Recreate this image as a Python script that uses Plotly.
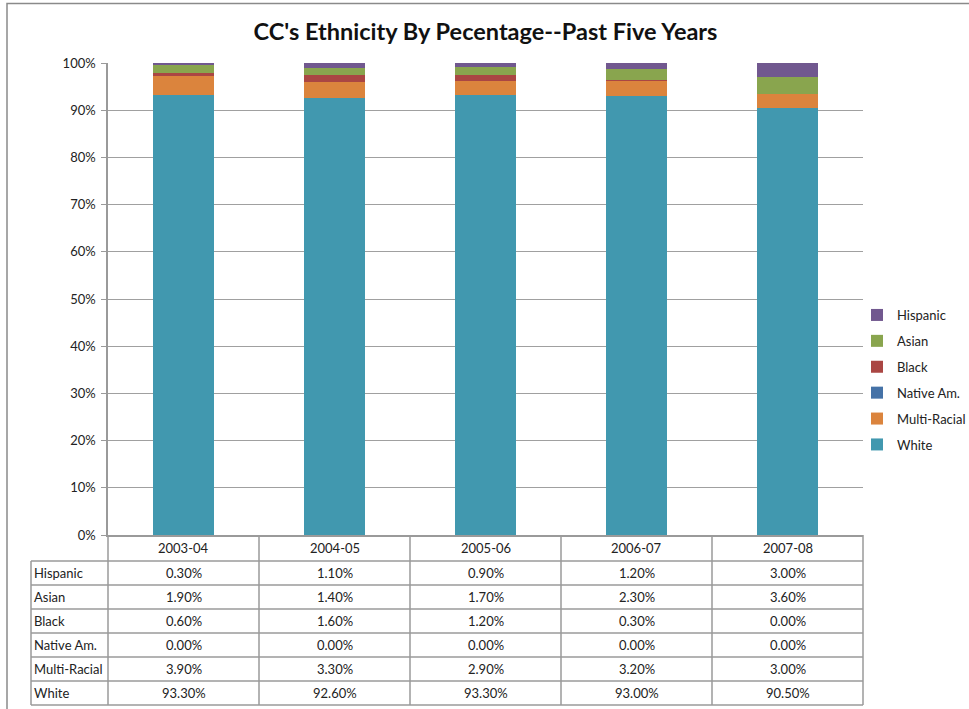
import plotly.graph_objects as go

years = ["2003-04", "2004-05", "2005-06", "2006-07", "2007-08"]
white = [93.3, 92.6, 93.3, 93.0, 90.5]
multi_racial = [3.9, 3.3, 2.9, 3.2, 3.0]
native_am = [0.0, 0.0, 0.0, 0.0, 0.0]
black = [0.6, 1.6, 1.2, 0.3, 0.0]
asian = [1.9, 1.4, 1.7, 2.3, 3.6]
hispanic = [0.3, 1.1, 0.9, 1.2, 3.0]

series = [
    ("White", white, "#4198AF"),
    ("Multi-Racial", multi_racial, "#DB843D"),
    ("Native Am.", native_am, "#4572A7"),
    ("Black", black, "#AA4643"),
    ("Asian", asian, "#89A54E"),
    ("Hispanic", hispanic, "#71588F"),
]
table_order = ["Hispanic", "Asian", "Black", "Native Am.", "Multi-Racial", "White"]

FONT = "Lato, Liberation Sans, sans-serif"
W, H = 969, 709
L, R, T, B = 108, 863, 63, 535


def px(x):
    return (x - L) / (R - L)


def py(y):
    return (B - y) / (B - T)


fig = go.Figure()
n = len(series)
for k, (name, vals, col) in enumerate(series):
    fig.add_trace(go.Bar(
        x=years, y=vals, name=name, marker_color=col,
        marker_line_width=0, width=0.4, legendgroup=name, legendrank=n - k,
    ))

shapes = []
annotations = []
line = dict(color="#9a9a9a", width=1.5)

# outer chart border
shapes.append(dict(type="rect", xref="paper", yref="paper",
                   x0=px(7), x1=px(990), y0=py(3.5), y1=py(730),
                   line=dict(color="#8a8a8a", width=1.5), layer="below"))

# table grid
row_tops = [561, 585, 609, 633, 657, 681, 705]
for y in row_tops:
    shapes.append(dict(type="line", xref="paper", yref="paper",
                       x0=px(31), x1=px(R), y0=py(y), y1=py(y), line=line))
shapes.append(dict(type="line", xref="paper", yref="paper",
                   x0=px(31), x1=px(31), y0=py(561), y1=py(705), line=line))
col_w = (R - L) / len(years)
for i in range(len(years) + 1):
    xx = L + i * col_w
    shapes.append(dict(type="line", xref="paper", yref="paper",
                       x0=px(xx), x1=px(xx), y0=py(B), y1=py(705), line=line))

tfont = dict(family=FONT, size=13, color="#222")
# header
for i, yr in enumerate(years):
    annotations.append(dict(x=i, xref="x", y=py(548), yref="paper", text=yr,
                            showarrow=False, font=tfont, xanchor="center", yanchor="middle"))
lookup = {nm: v for nm, v, c in series}
for r, name in enumerate(table_order):
    yc = (row_tops[r] + row_tops[r + 1]) / 2
    annotations.append(dict(x=px(32), xref="paper", y=py(yc), yref="paper", text=name,
                            showarrow=False, font=tfont, xanchor="left", yanchor="middle"))
    for i, v in enumerate(lookup[name]):
        annotations.append(dict(x=i, xref="x", y=py(yc), yref="paper", text=f"{v:.2f}%",
                                showarrow=False, font=tfont, xanchor="center", yanchor="middle"))

fig.update_layout(
    width=W, height=H,
    margin=dict(l=L, r=W - R, t=T, b=H - B, pad=0, autoexpand=False),
    barmode="stack", barnorm="percent",
    paper_bgcolor="white", plot_bgcolor="white",
    title=dict(text="<b>CC's Ethnicity By Pecentage--Past Five Years</b>",
               x=0.5, xanchor="center", xref="paper", y=1 - 32 / H, yanchor="middle",
               font=dict(family=FONT, size=23.5, color="#111")),
    font=dict(family=FONT, size=13, color="#222"),
    legend=dict(x=px(857), xanchor="left", y=py(300), yanchor="top",
                traceorder="grouped", tracegroupgap=6,
                font=dict(family=FONT, size=13, color="#222"),
                itemwidth=30, bgcolor="rgba(0,0,0,0)"),
    shapes=shapes, annotations=annotations,
)
fig.update_xaxes(type="category", showticklabels=False, showgrid=False, showline=True,
                 linecolor="#9a9a9a", linewidth=1.5, ticks="", range=[-0.5, 4.5])
fig.update_yaxes(range=[0, 100], dtick=10, ticksuffix="%", showgrid=True,
                 gridcolor="#a0a0a0", gridwidth=1, showline=True, linecolor="#9a9a9a",
                 linewidth=1.5, ticks="outside", ticklen=5, tickcolor="#9a9a9a",
                 ticklabelstandoff=3,
                 zeroline=False, tickfont=dict(family=FONT, size=13, color="#222"))

fig.write_html("out.html")
